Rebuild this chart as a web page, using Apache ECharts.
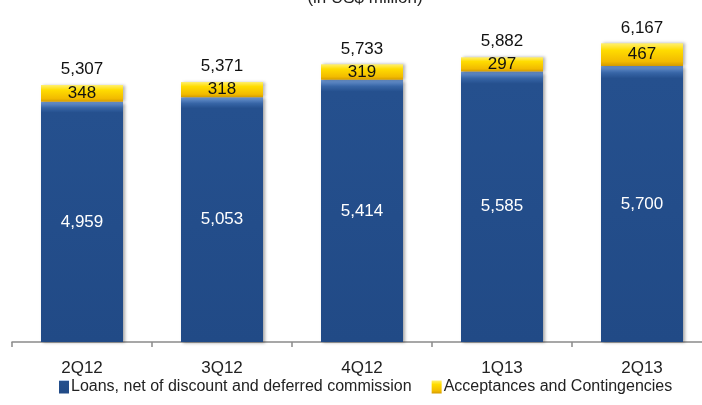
<!DOCTYPE html>
<html><head><meta charset="utf-8">
<style>html,body{margin:0;padding:0;background:#fff;overflow:hidden}#c{width:712px;height:405px}</style>
<script src="https://cdn.jsdelivr.net/npm/echarts@6/dist/echarts.min.js"></script>
</head><body><div id="c"></div>
<script>
const categories = ['2Q12', '3Q12', '4Q12', '1Q13', '2Q13'];
const loans = [4959, 5053, 5414, 5585, 5700];
const acceptances = [348, 318, 319, 297, 467];
const totals = [5307, 5371, 5733, 5882, 6167];
const seriesNames = ['Loans, net of discount and deferred commission', 'Acceptances and Contingencies'];
const titleText = '(in US$ million)';

const FONT = '"Liberation Sans", sans-serif';
const chart = echarts.init(document.getElementById('c'));
chart.setOption({
  animation: false,
  title: { text: titleText, left: 360, textAlign: 'center', top: -15,
    textStyle: { fontFamily: FONT, fontSize: 17, fontWeight: 'normal', color: '#222' } },
  grid: { left: 12, right: 0, top: 3, bottom: 63 },
  legend: {
    data: seriesNames, bottom: 5, left: 54, width: 650, itemGap: 20, itemWidth: 10, itemHeight: 13,
    textStyle: { fontFamily: FONT, fontSize: 16, color: '#222', padding: [0, 0, 0, -3] },
    icon: 'rect'
  },
  xAxis: {
    type: 'category', data: categories,
    axisLine: { lineStyle: { color: '#8a8a8a', width: 1.5 } },
    axisTick: { show: true, length: 5, lineStyle: { color: '#8a8a8a', width: 1.5 } },
    axisLabel: { fontFamily: FONT, fontSize: 17, color: '#222', margin: 18 }
  },
  yAxis: { type: 'value', min: 0, max: 7000, show: false, splitLine: { show: false } },
  series: [
    {
      name: seriesNames[0], type: 'bar', stack: 'a', data: loans, barWidth: 82,
      itemStyle: {
        color: new echarts.graphic.LinearGradient(0, 0, 0, 1, [
          { offset: 0, color: '#6f98d2' }, { offset: 0.025, color: '#3765a6' },
          { offset: 0.045, color: '#25508e' }, { offset: 1, color: '#214a86' }]),
        shadowBlur: 3, shadowOffsetX: 2, shadowOffsetY: 1, shadowColor: 'rgba(0,0,0,0.35)'
      },
      label: { show: true, position: 'inside', color: '#fff', fontFamily: FONT, fontSize: 17,
        formatter: p => p.value.toLocaleString('en-US') }
    },
    {
      name: seriesNames[1], type: 'bar', stack: 'a', data: acceptances, barWidth: 82,
      itemStyle: {
        color: new echarts.graphic.LinearGradient(0, 0, 0, 1, [
          { offset: 0, color: '#fff070' }, { offset: 0.3, color: '#ffdc00' },
          { offset: 0.8, color: '#f2bb00' }, { offset: 1, color: '#d39a00' }]),
        shadowBlur: 3, shadowOffsetX: 2, shadowOffsetY: 0, shadowColor: 'rgba(0,0,0,0.3)'
      },
      label: { show: true, position: 'inside', color: '#111', fontFamily: FONT, fontSize: 17,
        formatter: p => p.value.toLocaleString('en-US') }
    },
    {
      name: 'Total', type: 'bar', data: totals, barWidth: 82, barGap: '-100%',
      itemStyle: { color: 'rgba(0,0,0,0)' }, silent: true, z: 1,
      label: { show: true, position: 'top', distance: 7, color: '#111', fontFamily: FONT, fontSize: 17,
        formatter: p => p.value.toLocaleString('en-US') }
    }
  ]
});
</script></body></html>
